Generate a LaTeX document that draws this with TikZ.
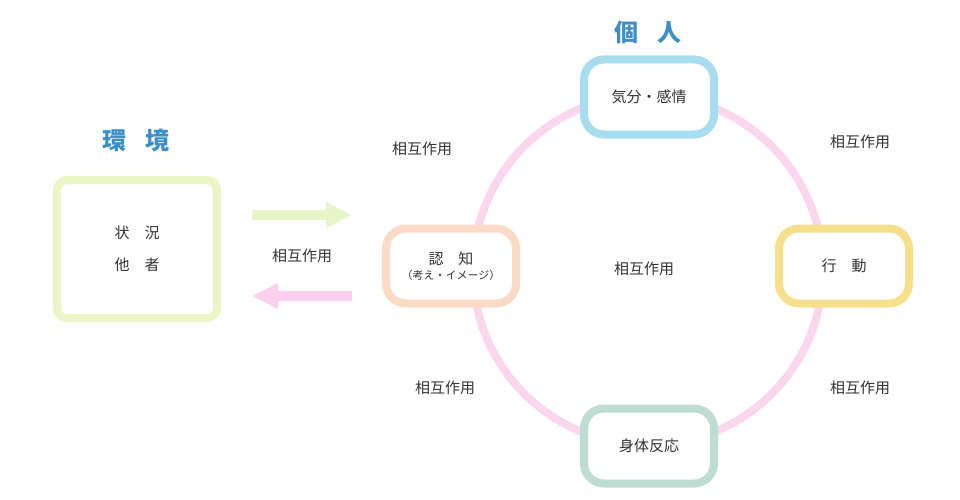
\documentclass[tikz,border=0pt]{standalone}
\usepackage{fontspec}
\setmainfont{Noto Sans CJK JP}
\usetikzlibrary{arrows.meta}
\definecolor{txt}{HTML}{333333}
\definecolor{ttl}{HTML}{3B8FC7}
\definecolor{ring}{HTML}{FBD6EF}
\definecolor{cblue}{HTML}{A8DDF0}
\definecolor{cyel}{HTML}{F6E08C}
\definecolor{cgrn}{HTML}{BEDDD2}
\definecolor{cpch}{HTML}{FBDAC6}
\definecolor{cenv}{HTML}{EBF5C6}
\definecolor{agrn}{HTML}{E8F5C8}
\definecolor{apnk}{HTML}{FBD0EE}
\begin{document}
\begin{tikzpicture}[x=1pt,y=-1pt,
  box/.style={draw=#1,line width=8pt,fill=white,rounded corners=20pt,minimum width=130pt,minimum height=75pt,text=txt,font=\fontsize{15}{18}\selectfont},
  lbl/.style={text=txt,font=\fontsize{15}{18}\selectfont},
  ttlst/.style={text=ttl,font=\fontsize{24}{28}\selectfont\bfseries}]
\useasboundingbox (0,0) rectangle (960,500);
\draw[ring,line width=8pt] (648,270) circle (175);
\node[box=cblue] (kibun) at (649,97) {気分・感情};
\node[box=cyel] (kodo) at (844,266) {行\hspace{1em}動};
\node[box=cgrn] (shintai) at (649,446) {身体反応};
\node[box=cpch,align=center] (ninchi) at (451,266) {認\hspace{1em}知\\[-3pt]{\fontsize{11}{13}\selectfont（考え・イメージ）}};
\node[draw=cenv,line width=8pt,fill=white,rounded corners=10pt,minimum width=160pt,minimum height=138pt,align=center,text=txt,font=\fontsize{15}{18}\selectfont,inner sep=0pt] (env) at (137,249) {状\hspace{1em}況\\[14pt]他\hspace{1em}者};
\node[ttlst] (t1) at (648,32) {個\hspace{0.8em}人};
\node[ttlst] (t2) at (136,140) {環\hspace{0.8em}境};
\coordinate (a1) at (252,215); \coordinate (b1) at (352,215);
\coordinate (a2) at (352,296); \coordinate (b2) at (252,296);
\draw[agrn,line width=10pt,-{Triangle[length=26pt,width=24pt]}] (a1) -- (b1);
\draw[apnk,line width=10pt,-{Triangle[length=26pt,width=24pt]}] (a2) -- (b2);
\node[lbl] (l1) at (422,149) {相互作用};
\node[lbl] (l2) at (860,142) {相互作用};
\node[lbl] (l3) at (302,256) {相互作用};
\node[lbl] (l4) at (644,269) {相互作用};
\node[lbl] (l5) at (445,388) {相互作用};
\node[lbl] (l6) at (860,388) {相互作用};
\end{tikzpicture}
\end{document}
